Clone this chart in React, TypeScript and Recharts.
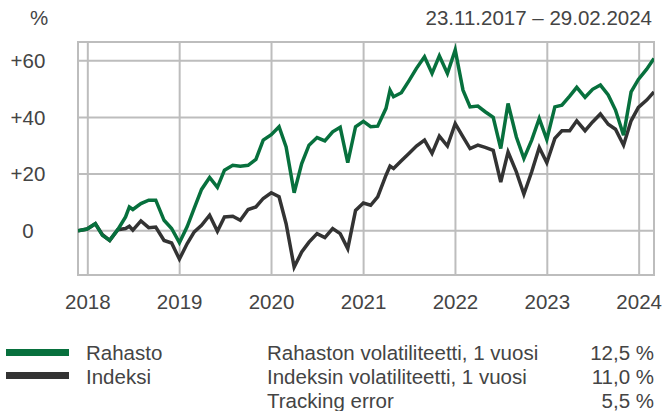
import React from 'react';
import {
  LineChart,
  Line,
  XAxis,
  YAxis,
  CartesianGrid,
  ReferenceArea,
} from 'recharts';

/* Fund vs index cumulative return, 23.11.2017 – 29.02.2024 */

const dates = [
  '2017-11-23', '2017-12-29', '2018-01-31', '2018-02-28', '2018-03-29', '2018-04-30', '2018-05-31',
  '2018-06-15', '2018-06-29', '2018-07-31', '2018-08-31', '2018-09-28', '2018-10-31', '2018-11-30', '2018-12-31',
  '2019-01-31', '2019-02-28', '2019-03-29', '2019-04-30', '2019-05-31', '2019-06-28', '2019-07-31',
  '2019-08-30', '2019-09-30', '2019-10-31', '2019-11-29', '2019-12-31',
  '2020-01-31', '2020-02-28', '2020-03-31', '2020-04-30', '2020-05-29', '2020-06-30', '2020-07-31',
  '2020-08-31', '2020-09-30', '2020-10-30', '2020-11-30', '2020-12-31',
  '2021-01-29', '2021-02-26', '2021-03-31', '2021-04-16', '2021-04-30', '2021-05-31', '2021-06-30',
  '2021-07-30', '2021-08-31', '2021-09-30', '2021-10-29', '2021-11-30', '2021-12-31',
  '2022-01-31', '2022-02-28', '2022-03-31', '2022-04-29', '2022-05-31', '2022-06-30', '2022-07-29',
  '2022-08-31', '2022-09-30', '2022-10-31', '2022-11-30', '2022-12-30',
  '2023-01-31', '2023-02-28', '2023-03-31', '2023-04-28', '2023-05-31', '2023-06-30', '2023-07-31',
  '2023-08-31', '2023-09-29', '2023-10-31', '2023-11-30', '2023-12-29', '2024-01-31', '2024-02-29',
];

const rahasto = [
  0, 0.6, 2.5, -1.6, -3.4, 0.4, 4.9, 8.4, 7.5, 9.6, 10.8, 10.8, 3.7, 0.8, -4.2,
  1.5, 8, 14.6, 18.8, 15.3, 21.4, 23.1, 22.8, 23.1, 25.2, 32, 33.9,
  36.7, 29.6, 13.4, 23.7, 30.2, 32.9, 31.7, 34.9, 36.5, 24, 36.7, 38.6,
  36.7, 36.9, 43.2, 49.6, 47.3, 48.7, 52.9, 57.3, 61.4, 55.5, 61.7, 55.5, 63.8,
  49.6, 43.7, 44, 42, 40, 29, 44.9, 33.1, 25.5, 32, 39.6, 32.2,
  43.7, 44.3, 47.5, 50.6, 47.1, 49.9, 51.4, 47.9, 42.6, 33.7, 49, 53.4, 57, 60.8,
];

const indeksi = [
  0, 0.6, 2.5, -1.4, -3.4, 0.4, 0.8, 1.6, 0.2, 3.5, 1.1, 1.3, -3.4, -4.3, -10,
  -4.5, -0.4, 1.9, 5.5, -0.2, 4.9, 5.1, 3.7, 7.5, 8.4, 11.4, 13.4,
  12, 2.5, -12.8, -7.5, -4, -1, -2.4, 0.8, -1, -6.3, 7.2, 9.8,
  9, 12, 19.6, 22.8, 22, 24.7, 27.3, 29.9, 32, 27.3, 33.4, 29.9, 37.8,
  33.1, 29, 30.2, 29.4, 28.4, 17.2, 27.8, 20.8, 12.9, 20.8, 29.4, 24,
  32.6, 35.3, 35.3, 38.8, 35.3, 38.4, 41.2, 37.6, 35.8, 30.2, 38.8, 43.5, 46.1, 49,
];

const yearTicks = [2018, 2019, 2020, 2021, 2022, 2023, 2024];
const yTicks = [0, 20, 40, 60];

const statLabels = [
  'Rahaston volatiliteetti, 1 vuosi',
  'Indeksin volatiliteetti, 1 vuosi',
  'Tracking error',
];
const statValues = ['12,5 %', '11,0 %', '5,5 %'];

const GREEN = '#07703d';
const DARK = '#333333';
const GRID = '#bdbdbd';
const TEXT = '#444444';
const FONT = '"Liberation Sans", Arial, sans-serif';
const FS = 20.5;

const chartData = dates.map((d, i) => ({
  t: Date.parse(d),
  rahasto: rahasto[i],
  indeksi: indeksi[i],
}));

const xMin = Date.parse('2017-11-23');
const xMax = Date.parse('2024-02-29');
const yMin = -15.6;
const yMax = 66.6;

const YTick = (props: any) => {
  const { x, y, payload } = props;
  const v = payload.value;
  return (
    <text x={x - 48} y={y} dy="0.355em" textAnchor="middle" fill={TEXT} fontSize={FS} fontFamily={FONT}>
      {v > 0 ? `+${v}` : `${v}`}
    </text>
  );
};

export default function App() {
  return (
    <div style={{ position: 'absolute', left: 0, top: 0, width: 662, height: 411, background: '#fff', fontFamily: FONT, color: TEXT }}>
      <div style={{ position: 'absolute', left: 30, top: 6, fontSize: FS }}>%</div>
      <div style={{ position: 'absolute', right: 10, top: 6, fontSize: FS }}>23.11.2017 – 29.02.2024</div>

      <LineChart
        width={662}
        height={330}
        data={chartData}
        margin={{ top: 42, right: 8, left: 0, bottom: 15 }}
      >
        <CartesianGrid stroke={GRID} strokeWidth={2} />
        <XAxis
          dataKey="t"
          type="number"
          scale="time"
          domain={[xMin, xMax]}
          ticks={yearTicks.map((y) => Date.UTC(y, 0, 1))}
          tickFormatter={(v) => String(new Date(v).getUTCFullYear())}
          tick={{ fill: TEXT, fontSize: FS, fontFamily: FONT }}
          tickLine={false}
          axisLine={false}
          tickSize={0}
          tickMargin={19}
          height={40}
          allowDataOverflow
        />
        <YAxis
          type="number"
          domain={[yMin, yMax]}
          ticks={yTicks}
          tick={<YTick />}
          tickLine={false}
          axisLine={false}
          tickSize={0}
          width={78}
          allowDataOverflow
        />
        <ReferenceArea
          x1={xMin}
          x2={xMax}
          y1={yMin}
          y2={yMax}
          fill="none"
          stroke={GRID}
          strokeWidth={2}
          fillOpacity={0}
        />
        <Line
          type="linear"
          dataKey="indeksi"
          stroke={DARK}
          strokeWidth={3.5}
          dot={false}
          isAnimationActive={false}
        />
        <Line
          type="linear"
          dataKey="rahasto"
          stroke={GREEN}
          strokeWidth={3.5}
          dot={false}
          isAnimationActive={false}
        />
      </LineChart>

      {/* legend */}
      <div style={{ position: 'absolute', left: 6, top: 349, width: 63, height: 7, background: GREEN }} />
      <div style={{ position: 'absolute', left: 6, top: 372, width: 63, height: 7, background: DARK }} />
      <div style={{ position: 'absolute', left: 86, top: 341, fontSize: FS, lineHeight: '24px' }}>
        <div>Rahasto</div>
        <div>Indeksi</div>
      </div>

      {/* statistics */}
      <div style={{ position: 'absolute', left: 267, top: 341, width: 387, fontSize: FS, lineHeight: '24px' }}>
        {statLabels.map((l, i) => (
          <div key={l} style={{ display: 'flex', justifyContent: 'space-between' }}>
            <span>{l}</span>
            <span>{statValues[i]}</span>
          </div>
        ))}
      </div>
    </div>
  );
}
